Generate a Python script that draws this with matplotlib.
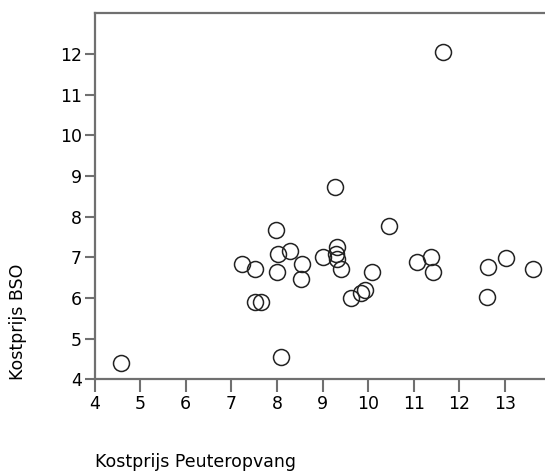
import matplotlib
matplotlib.use("Agg")
import matplotlib.pyplot as plt

# Kostprijs per regio
peuteropvang = [4.59, 7.24, 7.53, 7.52, 7.65, 7.98, 8.01, 8.03, 8.09, 8.28,
                8.54, 8.53, 9.02, 9.28, 9.31, 9.29, 9.31, 9.40, 9.62, 9.84,
                9.94, 10.09, 10.45, 11.08, 11.39, 11.42, 11.64, 12.60, 12.62,
                13.03, 13.62]
bso = [4.39, 6.84, 6.71, 5.89, 5.89, 7.66, 6.63, 7.08, 4.54, 7.16,
       6.84, 6.47, 7.01, 8.72, 7.25, 7.07, 6.97, 6.72, 6.00, 6.12,
       6.20, 6.65, 7.78, 6.89, 7.00, 6.65, 12.04, 6.03, 6.77,
       6.98, 6.72]

x_ticks = [4, 5, 6, 7, 8, 9, 10, 11, 12, 13]
y_ticks = [4, 5, 6, 7, 8, 9, 10, 11, 12]

plt.rcParams['font.family'] = ['DejaVu Sans']

fig = plt.figure(figsize=(5.45, 4.72), dpi=100)
ax = fig.add_axes([0.1734, 0.1964, 0.8367, 0.7754])

ax.plot(peuteropvang, bso, linestyle='none', marker='o', markersize=11.5,
        markerfacecolor='none', markeredgecolor='#222222', markeredgewidth=1.1)

ax.set_xlim(4, 14)
ax.set_ylim(4, 13)
ax.set_xticks(x_ticks)
ax.set_yticks(y_ticks)
ax.tick_params(axis='x', length=9.5, width=1.5, color='#707070', labelsize=12.5, pad=2)
ax.tick_params(axis='y', length=7, width=1.5, color='#707070', labelsize=12.5, pad=2)

for side in ['left', 'bottom', 'top', 'right']:
    ax.spines[side].set_color('#707070')
    ax.spines[side].set_linewidth(1.6)

fig.text(18 / 545, 0.195, 'Kostprijs BSO', rotation=90, ha='center', va='bottom', fontsize=12.5)
fig.text(95 / 545, 1 - 462 / 472, 'Kostprijs Peuteropvang', ha='left', va='center', fontsize=12.5)

fig.savefig('out.png', dpi=100)
